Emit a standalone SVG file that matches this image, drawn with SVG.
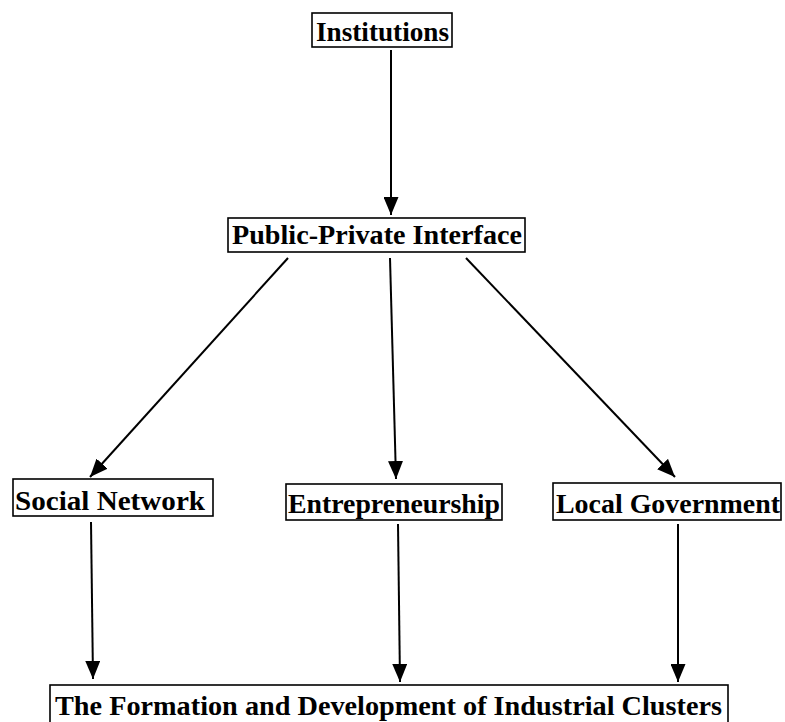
<svg xmlns="http://www.w3.org/2000/svg" width="785" height="722" viewBox="0 0 785 722">
  <style>
    .box { fill: #fff; stroke: #000; stroke-width: 1.6; }
    .lbl { font-family: "Liberation Serif", "Times New Roman", serif; font-weight: bold; font-size: 28px; fill: #000; }
    .edge { stroke: #000; stroke-width: 2; fill: none; marker-end: url(#arrowhead); }
  </style>
  <defs>
    <marker id="arrowhead" viewBox="0 0 18 15" refX="18" refY="7.5" markerWidth="18" markerHeight="15" markerUnits="userSpaceOnUse" orient="auto">
      <path d="M0,0 L18,7.5 L0,15 z" fill="#000"/>
    </marker>
  </defs>

  <g id="connectors">
    <line class="edge" x1="391" y1="50" x2="391" y2="215"/>
    <line class="edge" x1="288" y1="258" x2="90" y2="477"/>
    <line class="edge" x1="390" y1="258" x2="396" y2="479"/>
    <line class="edge" x1="466" y1="258" x2="675" y2="477"/>
    <line class="edge" x1="91" y1="522" x2="93" y2="679"/>
    <line class="edge" x1="398" y1="524" x2="400" y2="682"/>
    <line class="edge" x1="678" y1="524" x2="678" y2="682"/>
  </g>

  <g id="institutions">
    <rect class="box" x="312" y="13" width="140" height="34"/>
    <text class="lbl" x="316" y="41" textLength="133" lengthAdjust="spacingAndGlyphs">Institutions</text>
  </g>

  <g id="public-private-interface">
    <rect class="box" x="228" y="218" width="297" height="34"/>
    <text class="lbl" x="232" y="244" textLength="290" lengthAdjust="spacingAndGlyphs">Public-Private Interface</text>
  </g>

  <g id="social-network">
    <rect class="box" x="13" y="479" width="200" height="37"/>
    <text class="lbl" x="15" y="510" textLength="190" lengthAdjust="spacingAndGlyphs">Social Network</text>
  </g>

  <g id="entrepreneurship">
    <rect class="box" x="286" y="484" width="216" height="36"/>
    <text class="lbl" x="288" y="513" textLength="212" lengthAdjust="spacingAndGlyphs">Entrepreneurship</text>
  </g>

  <g id="local-government">
    <rect class="box" x="553" y="483" width="228" height="37"/>
    <text class="lbl" x="556" y="513" textLength="224" lengthAdjust="spacingAndGlyphs">Local Government</text>
  </g>

  <g id="industrial-clusters">
    <rect class="box" x="50" y="685" width="678" height="40"/>
    <text class="lbl" x="55" y="715" textLength="667" lengthAdjust="spacingAndGlyphs">The Formation and Development of Industrial Clusters</text>
  </g>
</svg>
